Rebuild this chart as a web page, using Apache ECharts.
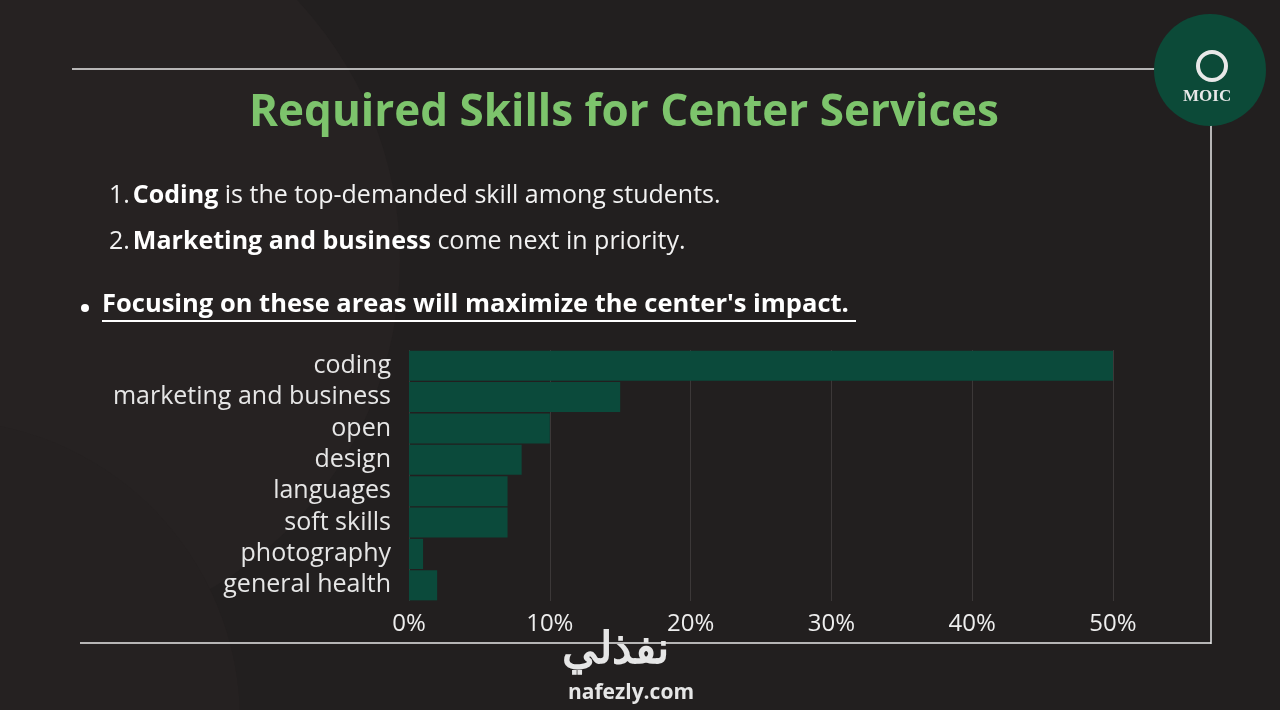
<!DOCTYPE html>
<html><head><meta charset="utf-8">
<script src="https://cdn.jsdelivr.net/npm/echarts@6/dist/echarts.min.js"></script>
<style>html,body{margin:0;padding:0;background:#221f1f}#c{width:1280px;height:710px}</style>
</head><body><div id="c"></div>
<script>
const categories = ['coding','marketing and business','open','design','languages','soft skills','photography','general health'];
const values = [50,15,10,8,7,7,1,2];
const xTicks = [0,10,20,30,40,50];

const chart = echarts.init(document.getElementById('c'));
const F = '"Open Sans", sans-serif';
const rich = {n:{fill:'#f2f2f2',fontSize:25,fontFamily:F,padding:[0,3,0,0]},b:{fill:'#fff',fontSize:25,fontWeight:'bold',fontFamily:F}};
chart.setOption({
  backgroundColor: '#221f1f',
  animation: false,
  graphic: [
    {type:'circle', shape:{cx:20,cy:260,r:380}, style:{fill:'#262222'}, z:-10},
    {type:'circle', shape:{cx:-60,cy:720,r:300}, style:{fill:'#252121'}, z:-9},
    {type:'line', shape:{x1:72,y1:69,x2:1160,y2:69}, style:{stroke:'#e8e8e8',lineWidth:1.5}},
    {type:'line', shape:{x1:1211,y1:120,x2:1211,y2:644}, style:{stroke:'#e8e8e8',lineWidth:1.5}},
    {type:'line', shape:{x1:80,y1:643,x2:1211,y2:643}, style:{stroke:'#e8e8e8',lineWidth:1.5}},
    {type:'circle', shape:{cx:1210,cy:70,r:56}, style:{fill:'#0c4a38'}},
    {type:'text', left:1183, top:88, style:{text:'MOIC', fill:'#e8e8e8', font:'bold 17px serif'}},
    {type:'circle', shape:{cx:1212,cy:66,r:14}, style:{fill:'none',stroke:'#e8e8e8',lineWidth:4}},
    {type:'text', left:249, top:91, style:{text:'Required Skills for Center Services', fill:'#7dc46c', font:'bold 44px '+F}},
    {type:'text', left:109, top:183, style:{text:'{n|1.}{b|Coding} is the top-demanded skill among students.', rich, fill:'#f2f2f2', fontSize:25, fontFamily:F}},
    {type:'text', left:109, top:229, style:{text:'{n|2.}{b|Marketing and business} come next in priority.', rich, fill:'#f2f2f2', fontSize:25, fontFamily:F}},
    {type:'circle', shape:{cx:85,cy:308,r:4}, style:{fill:'#fff'}},
    {type:'text', left:102, top:292, style:{text:"Focusing on these areas will maximize the center's impact.", fill:'#fff', font:'bold 25.5px '+F}},
    {type:'line', shape:{x1:102,y1:321,x2:856,y2:321}, style:{stroke:'#fff',lineWidth:2}},
    {type:'text', left:562, top:628, style:{text:'نفذلي', fill:'#e6e6e6', font:'bold 44px "Noto Sans", sans-serif'}},
    {type:'text', left:568, top:683, style:{text:'nafezly.com', fill:'#e6e6e6', font:'bold 21px '+F}}
  ],
  grid: {left:409, right:167, top:350, height:251, containLabel:false},
  xAxis: {type:'value', min:0, max:50, interval:10,
    axisLabel:{formatter: v => xTicks.includes(v) ? v+'%' : '', color:'#eeeeee', fontSize:24, fontFamily:F, margin:11},
    splitLine:{lineStyle:{color:'#3c3838'}}, axisLine:{show:false}, axisTick:{show:false}},
  yAxis: {type:'category', data:categories, inverse:true,
    axisLabel:{interval:0, color:'#e6e6e6', fontSize:25, lineHeight:28, fontFamily:F, margin:18},
    axisLine:{show:false}, axisTick:{show:false}},
  series: [{type:'bar', data:values, barCategoryGap:'4%', itemStyle:{color:'#0b4a3b'}}]
});
</script></body></html>
